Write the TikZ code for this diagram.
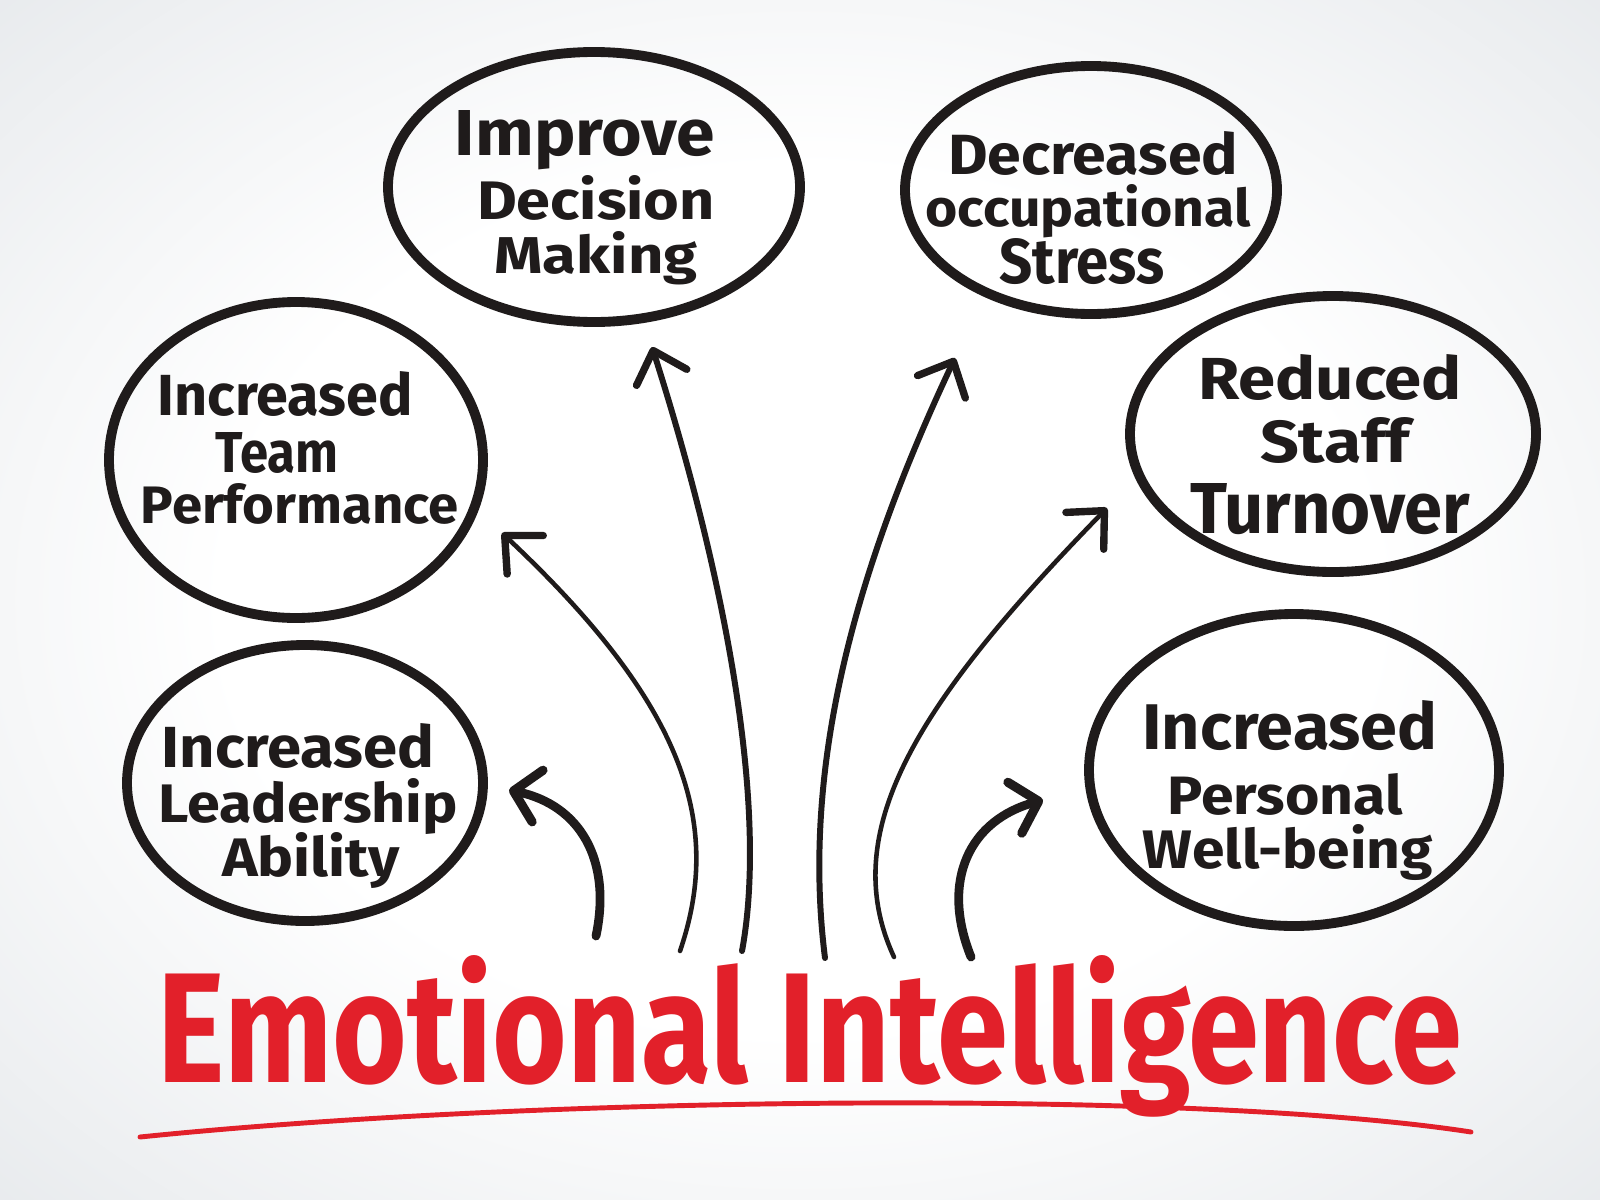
\documentclass[tikz,border=0pt]{standalone}
\usepackage{fontspec}
\setmainfont{Fira Sans}
\usepackage{graphicx}
\usetikzlibrary{shapes.geometric, arrows.meta}
\definecolor{bggrey}{HTML}{DCE0E4}
\definecolor{eired}{HTML}{E2202A}
\definecolor{ink}{HTML}{1F1B1B}
\newlength\pxu \setlength\pxu{0.01cm}
\newcommand\tline[3]{\resizebox{#1\pxu}{#2\pxu}{\bfseries #3}}
\pgfdeclareradialshading{bgshade}{\pgfpoint{0bp}{0bp}}{color(0bp)=(white); color(18bp)=(white); color(45bp)=(bggrey); color(50bp)=(bggrey)}
\begin{document}
\begin{tikzpicture}[x=0.01cm, y=-0.01cm,
  bubble/.style={ellipse, draw=ink, line width=2.8pt, inner sep=0pt},
  lbl/.style={anchor=base, inner sep=0pt, text=ink},
  longarrow/.style={draw=ink, line width=1.7pt, line cap=round,
    -{Straight Barb[length=8pt, width=15pt, line width=2.1pt, round]}},
  thinarrow/.style={longarrow, line width=1.3pt},
  shortarrow/.style={draw=ink, line width=2.5pt, line cap=round,
    -{Straight Barb[length=7pt, width=15pt, line width=2.6pt, round]}}]
\useasboundingbox (0,0) rectangle (1600,1200);
\shade[shading=bgshade] (0,0) rectangle (1600,1200);

% bubbles
\node[bubble, minimum width=412\pxu, minimum height=270\pxu] (improve) at (594,187) {};
\node[bubble, minimum width=372\pxu, minimum height=248\pxu] (decreased) at (1091,190) {};
\node[bubble, minimum width=374\pxu, minimum height=316\pxu] (team) at (296,460) {};
\node[bubble, minimum width=406\pxu, minimum height=276\pxu] (reduced) at (1333,434) {};
\node[bubble, minimum width=356\pxu, minimum height=276\pxu] (leader) at (305,783) {};
\node[bubble, minimum width=410\pxu, minimum height=312\pxu] (well) at (1294,770) {};

% texts
\node[lbl] (imp1) at (585,155) {\tline{260}{45}{Improve}};
\node[lbl] (imp2) at (596,219) {\tline{238}{44}{Decision}};
\node[lbl] (imp3) at (596,273) {\tline{203}{42}{Making}};

\node[lbl] (dec1) at (1093,174) {\tline{290}{43}{Decreased}};
\node[lbl] (dec2) at (1088,226) {\tline{325}{42}{occupational}};
\node[lbl] (dec3) at (1082,283) {\tline{165}{45}{Stress}};

\node[lbl] (team1) at (285,415) {\tline{255}{44}{Increased}};
\node[lbl] (team2) at (277,472) {\tline{123}{40}{Team}};
\node[lbl] (team3) at (300,523) {\tline{318}{40}{Performance}};

\node[lbl] (red1) at (1330,399) {\tline{264}{45}{Reduced}};
\node[lbl] (red2) at (1335,462) {\tline{150}{45}{Staff}};
\node[lbl] (red3) at (1330,533) {\tline{280}{50}{Turnover}};

\node[lbl] (lead1) at (298,767) {\tline{273}{44}{Increased}};
\node[lbl] (lead2) at (308,822) {\tline{300}{44}{Leadership}};
\node[lbl] (lead3) at (311,876) {\tline{178}{44}{Ability}};

\node[lbl] (well1) at (1290,749) {\tline{295}{49}{Increased}};
\node[lbl] (well2) at (1285,814) {\tline{235}{41}{Personal}};
\node[lbl] (well3) at (1288,868) {\tline{290}{44}{Well-being}};

% title
\node[anchor=base, inner sep=0pt, text=eired] (title) at (810,1082)
  {\resizebox{1304\pxu}{127\pxu}{\bfseries Emotional Intelligence}};
\coordinate (uL) at (140,1137);
\coordinate (uR) at (1471,1132);
\draw[eired, line width=1.4pt, line cap=round] (uL) .. controls (550,1095) and (1200,1090) .. (uR);

% arrows
\coordinate (sL) at (596,936); \coordinate (tL) at (509,790);
\coordinate (sT) at (680,951); \coordinate (tT) at (502,533);
\coordinate (sI) at (742,951); \coordinate (tI) at (652,347);
\coordinate (sD) at (825,958); \coordinate (tD) at (955,358);
\coordinate (sR) at (894,957); \coordinate (tR) at (1107,508);
\coordinate (sW) at (971,957); \coordinate (tW) at (1043,800);

\draw[shortarrow] (sL) .. controls (612,860) and (580,805) .. (tL);
\draw[thinarrow] (sT) .. controls (725,820) and (680,700) .. (tT);
\draw[longarrow] (sI) .. controls (770,800) and (720,560) .. (tI);
\draw[longarrow] (sD) .. controls (800,760) and (860,560) .. (tD);
\draw[thinarrow] (sR) .. controls (835,830) and (920,700) .. (tR);
\draw[shortarrow] (sW) .. controls (940,880) and (970,820) .. (tW);
\end{tikzpicture}
\end{document}
